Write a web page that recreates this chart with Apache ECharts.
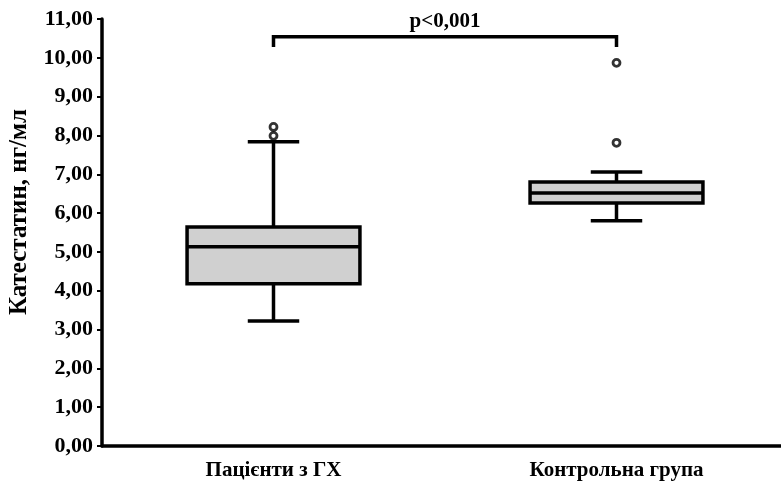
<!DOCTYPE html>
<html>
<head>
<meta charset="utf-8">
<script src="https://cdn.jsdelivr.net/npm/echarts@6/dist/echarts.min.js"></script>
<style>
  html, body { margin: 0; padding: 0; background: #fff; }
  #chart { width: 781px; height: 482px; }
</style>
</head>
<body>
<div id="chart"></div>
<script>
// categories and values
var categories = ['Пацієнти з ГХ', 'Контрольна група'];
// [min, Q1, median, Q3, max]
var boxValues = [
  [3.22, 4.18, 5.13, 5.64, 7.84],
  [5.80, 6.26, 6.52, 6.80, 7.06]
];
// [category index, value]
var outliers = [
  [0, 7.99], [0, 8.22],
  [1, 7.81], [1, 9.87]
];
var yTicks = [0, 11, 1]; // min, max, step
var yTitle = 'Катестатин, нг/мл';
var bracket = { from: 0, to: 1, top: 10.54, foot: 10.28, text: 'p<0,001' };

var font = '"Liberation Serif", "DejaVu Serif", serif';

var myChart = echarts.init(document.getElementById('chart'));

var boxData = [];
for (var i = 0; i < boxValues.length; ++i) {
  boxData.push([i].concat(boxValues[i]));
}

function renderBox(params, api) {
  var idx = api.value(0);
  var band = api.size([1, 0])[0];
  var half = band * 0.252;
  var cap = band * 0.075;
  var pMin = api.coord([idx, api.value(1)]);
  var pQ1 = api.coord([idx, api.value(2)]);
  var pMed = api.coord([idx, api.value(3)]);
  var pQ3 = api.coord([idx, api.value(4)]);
  var pMax = api.coord([idx, api.value(5)]);
  var x = pMed[0];
  var line = { stroke: '#000', lineWidth: 3.5 };
  return {
    type: 'group',
    children: [
      { type: 'line', shape: { x1: x, y1: pMax[1], x2: x, y2: pQ3[1] }, style: line },
      { type: 'line', shape: { x1: x, y1: pQ1[1], x2: x, y2: pMin[1] }, style: line },
      { type: 'line', shape: { x1: x - cap, y1: pMax[1], x2: x + cap, y2: pMax[1] }, style: line },
      { type: 'line', shape: { x1: x - cap, y1: pMin[1], x2: x + cap, y2: pMin[1] }, style: line },
      { type: 'rect', shape: { x: x - half, y: pQ3[1], width: half * 2, height: pQ1[1] - pQ3[1] },
        style: { fill: '#d0d0d0', stroke: '#000', lineWidth: 3.5 } },
      { type: 'line', shape: { x1: x - half, y1: pMed[1], x2: x + half, y2: pMed[1] }, style: line }
    ]
  };
}

function renderBracket(params, api) {
  var a = api.coord([bracket.from, bracket.top]);
  var b = api.coord([bracket.to, bracket.top]);
  var af = api.coord([bracket.from, bracket.foot]);
  var bf = api.coord([bracket.to, bracket.foot]);
  return {
    type: 'group',
    children: [
      { type: 'polyline', shape: { points: [af, a, b, bf] },
        style: { stroke: '#000', lineWidth: 3.5, fill: null } },
      { type: 'text', x: (a[0] + b[0]) / 2, y: a[1] - 5,
        style: { text: bracket.text, font: 'bold 21px ' + font, fill: '#000',
                 align: 'center', verticalAlign: 'bottom' } }
    ]
  };
}

var option = {
  animation: false,
  graphic: [{
    type: 'text',
    x: 20, y: 212,
    rotation: Math.PI / 2,
    style: { text: yTitle, font: 'bold 25px ' + font, fill: '#000',
             align: 'center', verticalAlign: 'middle' }
  }],
  grid: { left: 102, top: 19, width: 686, bottom: 36, containLabel: false, outerBoundsMode: 'none' },
  xAxis: {
    type: 'category',
    data: categories,
    boundaryGap: true,
    axisLine: { lineStyle: { color: '#000', width: 3.5 } },
    axisTick: { alignWithLabel: true, length: 4, lineStyle: { color: '#000', width: 2 } },
    axisLabel: { color: '#000', fontFamily: font, fontWeight: 'bold', fontSize: 21, margin: 14 },
    splitLine: { show: false }
  },
  yAxis: {
    type: 'value',
    min: yTicks[0],
    max: yTicks[1],
    interval: yTicks[2],
    axisLine: { show: true, lineStyle: { color: '#000', width: 3.5 } },
    axisTick: { show: true, length: 5, lineStyle: { color: '#000', width: 2 } },
    axisLabel: {
      color: '#000', fontFamily: font, fontWeight: 'bold', fontSize: 22, margin: 9,
      formatter: function(v) { return v.toFixed(2).replace('.', ','); }
    },
    splitLine: { show: false }
  },
  series: [{
    type: 'custom',
    renderItem: renderBox,
    data: boxData
  }, {
    type: 'scatter',
    data: outliers,
    symbol: 'circle',
    symbolSize: 7,
    itemStyle: { color: '#fff', borderColor: '#000', borderWidth: 2.8 }
  }, {
    type: 'custom',
    renderItem: renderBracket,
    data: [[0, bracket.top]]
  }]
};
myChart.setOption(option);
</script>
</body>
</html>
